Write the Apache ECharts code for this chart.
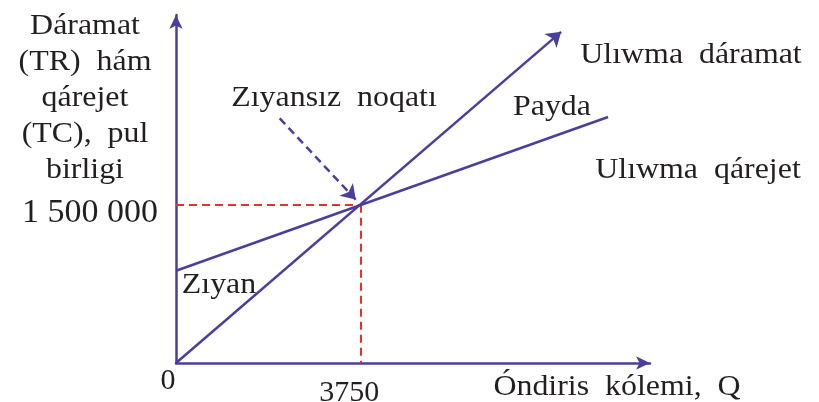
<!DOCTYPE html>
<html>
<head>
<meta charset="utf-8">
<script src="https://cdn.jsdelivr.net/npm/echarts@6/dist/echarts.min.js"></script>
<style>html,body{margin:0;padding:0;background:#fff}#c{width:819px;height:402px}</style>
</head>
<body>
<div id="c"></div>
<script>
// ---- data ----
const trQ = [0, 7800];              // total revenue line (quantity)
const trValue = [0, 3140000];       // total revenue line (value)
const tcQ = [0, 8750];              // total cost line (quantity)
const tcValue = [875000, 2333000];  // total cost line (value)
const breakEvenQ = 3750;
const breakEvenValue = 1500000;
const pointerFrom = [2100, 2320000]; // dashed pointer to break-even point
const pointerTo = [3640, 1550000];
const xTickValues = [0, 3750];
const yTickValues = [1500000];
const yTickLabels = ['1 500 000'];
const axisMax = { x: 9600, y: 3300000 };

const FAMILY = '"Liberation Serif", "Times New Roman", serif';
const FONT = FAMILY;
const INK = '#231f20';
const BLUE = '#4b3f9e';
const RED = '#e8312f';

const chart = echarts.init(document.getElementById('c'));
function txt(text, x, y, opts) {
  return Object.assign({
    type: 'text', x: x, y: y, scaleX: 1.1,
    style: { text: text, font: '29px ' + FONT, fill: INK, textAlign: 'center', textVerticalAlign: 'middle' }
  }, opts || {});
}
chart.setOption({
  animation: false,
  grid: { left: 176, top: 15, width: 474, height: 348, containLabel: false, outerBoundsMode: 'none' },
  xAxis: {
    type: 'value', min: 0, max: axisMax.x,
    splitLine: { show: false }, axisTick: { show: false },
    axisLine: { show: true, symbol: ['none', 'arrow'], symbolSize: [10, 14], lineStyle: { color: BLUE, width: 2.5 } },
    axisLabel: {
      customValues: xTickValues, margin: 3, fontSize: 30, fontFamily: FAMILY, color: INK,
      formatter: v => v === 0 ? '{z|0}' : '{n|' + v + '}',
      rich: {
        z: { fontSize: 30, fontFamily: FAMILY, color: INK, padding: [0, 16, 0, 0] },
        n: { fontSize: 30, fontFamily: FAMILY, color: INK, padding: [12, 24, 0, 0] }
      }
    }
  },
  yAxis: {
    type: 'value', min: 0, max: axisMax.y,
    splitLine: { show: false }, axisTick: { show: false },
    axisLine: { show: true, symbol: ['none', 'arrow'], symbolSize: [10, 14], lineStyle: { color: BLUE, width: 2.5 } },
    axisLabel: {
      customValues: yTickValues, margin: 18, fontSize: 34, fontFamily: FAMILY, color: INK,
      formatter: v => '{n|' + yTickLabels[yTickValues.indexOf(v)] + '}',
      rich: { n: { fontSize: 34, fontFamily: FAMILY, color: INK, padding: [16, 0, 0, 0] } }
    }
  },
  series: [
    { type: 'lines', coordinateSystem: 'cartesian2d', z: 3,
      lineStyle: { color: RED, width: 2, type: [8, 5], opacity: 1 }, symbol: 'none',
      data: [
        { coords: [[0, breakEvenValue], [breakEvenQ, breakEvenValue]] },
        { coords: [[breakEvenQ, breakEvenValue], [breakEvenQ, 0]] }
      ] },
    { type: 'lines', coordinateSystem: 'cartesian2d', z: 4,
      lineStyle: { color: BLUE, width: 2.5, opacity: 1 }, symbol: ['none', 'arrow'], symbolSize: 14,
      data: [{ coords: [[trQ[0], trValue[0]], [trQ[1], trValue[1]]] }] },
    { type: 'lines', coordinateSystem: 'cartesian2d', z: 4,
      lineStyle: { color: BLUE, width: 2.5, opacity: 1 }, symbol: 'none',
      data: [{ coords: [[tcQ[0], tcValue[0]], [tcQ[1], tcValue[1]]] }] },
    { type: 'lines', coordinateSystem: 'cartesian2d', z: 4,
      lineStyle: { color: BLUE, width: 2.5, type: [8, 5], opacity: 1 }, symbol: ['none', 'arrow'], symbolSize: 14,
      data: [{ coords: [pointerFrom, pointerTo] }] }
  ],
  graphic: [
    txt('', 85, 8,
      { style: { text: 'Dáramat\n(TR)  hám\nqárejet\n(TC),  pul\nbirligi', font: '29px ' + FONT, fill: INK, textAlign: 'center', textVerticalAlign: 'top', lineHeight: 36 } }),
    txt('Zıyansız  noqatı', 334, 98),
    txt('Payda', 552, 107),
    txt('Ulıwma  dáramat', 691, 55),
    txt('Ulıwma  qárejet', 698, 170),
    txt('Zıyan', 219, 285),
    txt('Óndiris  kólemi,  Q', 617, 387)
  ]
});
</script>
</body>
</html>
